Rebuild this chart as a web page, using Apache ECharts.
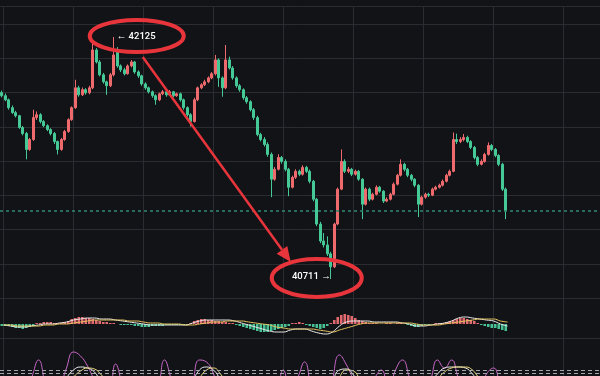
<!DOCTYPE html>
<html>
<head>
<meta charset="utf-8">
<script src="https://cdn.jsdelivr.net/npm/echarts/dist/echarts.min.js"></script>
<style>
  html, body { margin: 0; padding: 0; background: #121317; }
  #chart { width: 600px; height: 376px; }
</style>
</head>
<body>
<div id="chart"></div>
<script>
// candles, one per slot (slot i -> 3.5px step)
const opens = [
  41800,41782,41758,41712,41683,41665,41596,41561,41468,41526,
  41654,41671,41631,41607,41584,41561,41514,41468,41526,41573,
  41642,41712,41828,41787,41817,41799,41828,42049,41979,41904,
  41863,41840,41904,42037,41956,41933,41910,41956,41979,41921,
  41898,41851,41828,41805,41782,41758,41793,41805,41787,41805,
  41782,41793,41758,41712,41671,41631,41758,41828,41846,41863,
  41886,41910,41991,41886,41828,41991,41944,41886,41840,41817,
  41770,41747,41700,41654,41555,41526,41497,41439,41294,41352,
  41421,41398,41352,41247,41305,41340,41323,41363,41340,41282,
  41177,41032,40933,40910,40858,40782,41032,41236,41398,41340,
  41352,41323,41340,41294,41148,41236,41177,41206,41247,41224,
  41166,41177,41206,41265,41317,41381,41352,41317,41294,41259,
  41148,41189,41206,41201,41236,41247,41259,41282,41317,41340,
  41526,41514,41526,41538,41514,41480,41421,41381,41398,41439,
  41491,41468,41433,41381,41236
];
const closes = [
  41782,41758,41712,41683,41665,41596,41561,41468,41526,41654,
  41671,41631,41607,41584,41561,41514,41468,41526,41573,41642,
  41712,41828,41787,41817,41799,41828,42049,41979,41904,41863,
  41840,41904,42020,41956,41933,41910,41956,41979,41921,41898,
  41851,41828,41805,41782,41758,41793,41805,41787,41805,41782,
  41793,41758,41712,41671,41631,41758,41828,41846,41863,41886,
  41910,41991,41886,41828,41991,41944,41886,41840,41817,41770,
  41747,41700,41654,41555,41526,41497,41439,41294,41352,41421,
  41398,41352,41247,41305,41340,41323,41363,41340,41282,41177,
  41032,40933,40910,40858,40782,41032,41236,41398,41340,41352,
  41323,41340,41294,41148,41236,41177,41206,41247,41224,41166,
  41177,41206,41265,41317,41381,41352,41317,41294,41259,41148,
  41189,41206,41201,41236,41247,41259,41282,41317,41340,41526,
  41514,41526,41538,41514,41480,41421,41381,41398,41439,41491,
  41468,41433,41381,41236,41110
];
const lows = [
  41772,41750,41700,41676,41655,41588,41550,41410,41460,41518,
  41640,41620,41598,41575,41550,41500,41439,41460,41518,41565,
  41635,41705,41776,41780,41788,41790,41820,41970,41895,41852,
  41787,41832,41895,41945,41920,41900,41905,41948,41910,41886,
  41840,41817,41795,41770,41729,41750,41785,41776,41780,41772,
  41775,41747,41700,41660,41602,41625,41750,41820,41838,41855,
  41878,41900,41834,41776,41820,41935,41875,41828,41805,41758,
  41735,41690,41640,41545,41515,41485,41425,41189,41285,41345,
  41385,41340,41195,41240,41295,41312,41315,41330,41270,41165,
  41020,40920,40895,40845,40711,40775,41025,41230,41330,41330,
  41312,41315,41285,41061,41140,41165,41170,41200,41215,41155,
  41160,41170,41200,41258,41310,41340,41306,41282,41247,41073,
  41140,41180,41190,41195,41228,41240,41252,41275,41310,41335,
  41500,41505,41515,41505,41470,41410,41370,41375,41390,41432,
  41458,41422,41370,41225,41061
];
const highs = [
  41812,41795,41765,41725,41694,41670,41605,41570,41535,41700,
  41690,41680,41640,41615,41592,41570,41520,41535,41582,41650,
  41720,41875,41840,41830,41826,41840,42090,42060,41990,41915,
  41870,41915,42125,42066,41965,41945,41965,41990,41985,41930,
  41905,41860,41835,41812,41790,41800,41815,41812,41815,41810,
  41800,41800,41765,41720,41680,41770,41835,41855,41875,41895,
  41920,42020,42000,41895,42078,42010,41955,41895,41850,41825,
  41780,41755,41710,41665,41565,41540,41510,41450,41365,41440,
  41430,41410,41360,41315,41352,41350,41375,41372,41350,41290,
  41185,41045,40980,40960,40870,41040,41245,41468,41410,41365,
  41360,41350,41348,41300,41245,41245,41215,41258,41255,41230,
  41188,41215,41275,41325,41410,41390,41360,41325,41300,41265,
  41198,41215,41215,41245,41256,41268,41292,41326,41350,41567,
  41560,41540,41558,41548,41522,41488,41430,41410,41448,41509,
  41500,41476,41440,41390,41245
];
const lastPrice = 41110;
const highMark = { index: 32, value: 42125, text: '← 42125' };
const lowMark = { index: 94, value: 40711, text: '40711 →' };

// MACD histogram, per candle
const macdHist = [
  -2,-2,-2,-3,-4,-4,-5,-4,-3,-2,
  1,1,2,2,2,1,1,1,2,3,5,6,7,7,6,6,5,4,3,
  2,2,1,1,0,-1,-1,-1,
  -1,-2,-2,-3,-3,-3,-2,-2,-2,-2,-1,-1,-1,-1,-1,-1,-1,
  1,3,4,5,5,4,4,3,3,2,2,1,1,
  -1,-2,-3,-4,-5,-6,-7,-8,-8,-8,-7,-6,-5,-4,-3,-2,
  1,1,2,1,-1,-2,-3,-4,-5,-4,-2,
  1,4,7,9,10,9,8,6,4,3,2,
  1,1,1,0,0,1,1,0,1,
  1,0,-1,-2,-3,-3,-2,-1,
  -1,0,1,1,1,2,3,4,
  5,6,6,5,4,3,
  1,-1,-2,-3,-4,-4,-5,-6,-7
];
// MACD lines, every second candle
const macdLine = [
  -1,-2,-3,-3,-2,-1,0,0,1,2, 4,5,6,6,5,5,4,3,2,1,
  0,-1,-1,-1,-1,-1,-1,1,3,4, 4,4,4,3,1,-1,-3,-5,-7,-8,
  -8,-6,-5,-5,-7,-9,-10,-8,-2,2, 3,3,3,2,2,2,2,1,0,-2,
  -2,-1,0,1,3,6,7,6,5,4, 3,0,-2
];
const signalLine = [
  -1,-1,-2,-2,-2,-2,-1,-1,0,0, 1,2,3,4,4,4,4,4,3,3,
  2,1,1,0,0,0,-1,-1,0,1, 2,2,3,3,3,2,1,0,-1,-3,
  -4,-5,-5,-5,-5,-6,-7,-8,-6,-4, -2,0,1,1,1,1,1,1,1,0,
  -1,-1,-1,0,1,2,3,4,5,5, 5,3,2
];
// lower oscillator, every second candle
const oscK = [
  40,35,30,45,62,80,55,35,50,72, 88,84,74,60,50,40,76,55,35,25,
  30,40,50,80,60,40,30,55,80,78, 66,45,30,20,15,12,15,20,25,40,
  70,50,62,78,50,30,25,60,85,75, 60,45,50,62,70,50,70,80,62,40,
  45,60,80,72,80,62,50,40,50,66, 72,50,30
];
const oscD = [
  45,42,40,42,50,55,52,48,50, 62,70,73,72,68,58,
  55,58,52,45,38,35,38,45,55,52,45,45, 58,70,73,70,60,
  48,35,25,20,18,20,25,35,50,52,58,62,52,40,40, 58,70,71,65,
  55,52,58,62,55,60,63,55,45,48,58, 66,72,73,73,72,66, 58,60,63,55,45
];
const oscJ = [
  48,45,42,41,45,50,52,50,49, 55,63,69,72,71,65,
  58,57,55,50,43,38,37,40,48,52,48,46, 52,62,70,72,66,
  55,42,30,23,20,19,22,30,42,50,55,60,56,46,41, 50,63,70,69,
  60,54,55,60,58,58,62,58,50,47,53, 61,68,72,73,73,70, 62,59,61,58,50
];
const bandLevels = [70, 67.5];

const slotCount = 172;
const slots = Array.from({ length: slotCount }, (_, i) => i);
const halfSlots = Array.from({ length: slotCount / 2 }, (_, i) => i);

const bg = '#121317';
const gridColor = '#2a2c31';
const upColor = '#ee6a6d';
const downColor = '#45c996';
const vLine = (i) => i % 20 === 1;

const chart = echarts.init(document.getElementById('chart'), null, { renderer: 'canvas' });

function catAxis(gridIndex, withLines, extra) {
  return Object.assign({
    type: 'category',
    gridIndex: gridIndex,
    data: slots,
    boundaryGap: true,
    axisLine: { show: false },
    axisTick: { show: false },
    axisLabel: { show: false },
    splitLine: { show: withLines, interval: vLine, lineStyle: { color: gridColor, width: 1 } }
  }, extra || {});
}

const option = {
  backgroundColor: bg,
  animation: false,
  grid: [
    { left: 0, top: 6, width: 602, height: 292, outerBoundsMode: 'none' },
    { left: 0, top: 298, width: 602, height: 40, outerBoundsMode: 'none' },
    { left: 0, top: 338, width: 602, height: 38, outerBoundsMode: 'none' }
  ],
  xAxis: [
    catAxis(0, true),
    catAxis(1, true, { axisLine: { show: true, onZero: false, lineStyle: { color: gridColor } } }),
    { type: 'category', gridIndex: 1, data: halfSlots, show: false, position: 'top' },
    catAxis(2, true),
    { type: 'category', gridIndex: 2, data: halfSlots, show: false, position: 'top' }
  ],
  yAxis: [
    {
      type: 'value', gridIndex: 0, min: 40600, max: 42306, interval: 200,
      axisLine: { show: false }, axisTick: { show: false }, axisLabel: { show: false },
      splitLine: { show: true, lineStyle: { color: gridColor, width: 1 } }
    },
    { type: 'value', gridIndex: 1, min: -14, max: 26, show: false, splitLine: { show: false } },
    { type: 'value', gridIndex: 2, min: 64, max: 102, show: false, splitLine: { show: false } }
  ],
  series: [
    {
      type: 'candlestick',
      xAxisIndex: 0, yAxisIndex: 0,
      barWidth: 2.4,
      data: opens.map((o, i) => [o, closes[i], lows[i], highs[i]]),
      itemStyle: {
        color: upColor, color0: downColor,
        borderColor: upColor, borderColor0: downColor, borderWidth: 1
      },
      markLine: {
        silent: true, symbol: 'none',
        label: { show: false },
        lineStyle: { color: '#2f8a74', type: [3, 3], width: 1.5 },
        data: [{ yAxis: lastPrice }]
      }
    },
    {
      type: 'bar',
      xAxisIndex: 1, yAxisIndex: 1,
      barWidth: 2.6,
      data: macdHist,
      itemStyle: { color: (p) => p.value >= 0 ? '#ec6f73' : '#4ccb9b', opacity: 0.95 }
    },
    {
      type: 'line', xAxisIndex: 2, yAxisIndex: 1, data: macdLine,
      symbol: 'none', smooth: true, lineStyle: { color: '#ececec', width: 1 }
    },
    {
      type: 'line', xAxisIndex: 2, yAxisIndex: 1, data: signalLine,
      symbol: 'none', smooth: true, lineStyle: { color: '#e6c560', width: 1 }
    },
    {
      type: 'line', xAxisIndex: 4, yAxisIndex: 2, data: oscK,
      symbol: 'none', smooth: true, lineStyle: { color: '#c868c8', width: 1 }
    },
    {
      type: 'line', xAxisIndex: 4, yAxisIndex: 2, data: oscD,
      symbol: 'none', smooth: true, lineStyle: { color: '#f0f0f0', width: 1 }
    },
    {
      type: 'line', xAxisIndex: 4, yAxisIndex: 2, data: oscJ,
      symbol: 'none', smooth: true, lineStyle: { color: '#e9d77c', width: 1 }
    }
  ]
};
chart.setOption(option);

// hand drawn style annotations, anchored to the high / low candles
const hi = chart.convertToPixel({ xAxisIndex: 0, yAxisIndex: 0 }, [highMark.index, highMark.value]);
const lo = chart.convertToPixel({ xAxisIndex: 0, yAxisIndex: 0 }, [lowMark.index, lowMark.value]);

const red = '#e8353b';
const start = [hi[0] + 29, hi[1] + 20];
const tip = [lo[0] - 40, lo[1] - 17];
const dx = tip[0] - start[0], dy = tip[1] - start[1];
const len = Math.sqrt(dx * dx + dy * dy);
const ux = dx / len, uy = dy / len;
const base = [tip[0] - ux * 15, tip[1] - uy * 15];
const head = [
  tip,
  [base[0] - uy * 6.5, base[1] + ux * 6.5],
  [base[0] + uy * 6.5, base[1] - ux * 6.5]
];

// oscillator band lines (dashed)
const bands = bandLevels.map((v) => {
  const y = Math.round(chart.convertToPixel({ yAxisIndex: 2 }, v)) + 0.5;
  return {
    type: 'line', z: 5, silent: true,
    shape: { x1: 0, y1: y, x2: 600, y2: y },
    style: { stroke: '#a4a5aa', lineWidth: 1, lineDash: [4, 3] }
  };
});

chart.setOption({
  graphic: bands.concat([
    {
      type: 'text', z: 10,
      style: { text: highMark.text, x: hi[0] + 3, y: hi[1], fill: '#ffffff', font: '500 9.5px Roboto', align: 'left', verticalAlign: 'middle' }
    },
    {
      type: 'text', z: 10,
      style: { text: lowMark.text, x: lo[0], y: lo[1] - 2, fill: '#ffffff', font: '500 9.5px Roboto', align: 'right', verticalAlign: 'middle' }
    },
    {
      type: 'ellipse', z: 11,
      shape: { cx: hi[0] + 23, cy: hi[1] - 1, rx: 47, ry: 16 },
      style: { fill: 'none', stroke: red, lineWidth: 4 }
    },
    {
      type: 'ellipse', z: 11,
      shape: { cx: lo[0] - 14, cy: lo[1] - 1, rx: 45, ry: 19 },
      style: { fill: 'none', stroke: red, lineWidth: 4 }
    },
    {
      type: 'line', z: 11,
      shape: { x1: start[0], y1: start[1], x2: base[0], y2: base[1] },
      style: { stroke: red, lineWidth: 2.5 }
    },
    {
      type: 'polygon', z: 11,
      shape: { points: head },
      style: { fill: red }
    }
  ])
});
</script>
</body>
</html>
